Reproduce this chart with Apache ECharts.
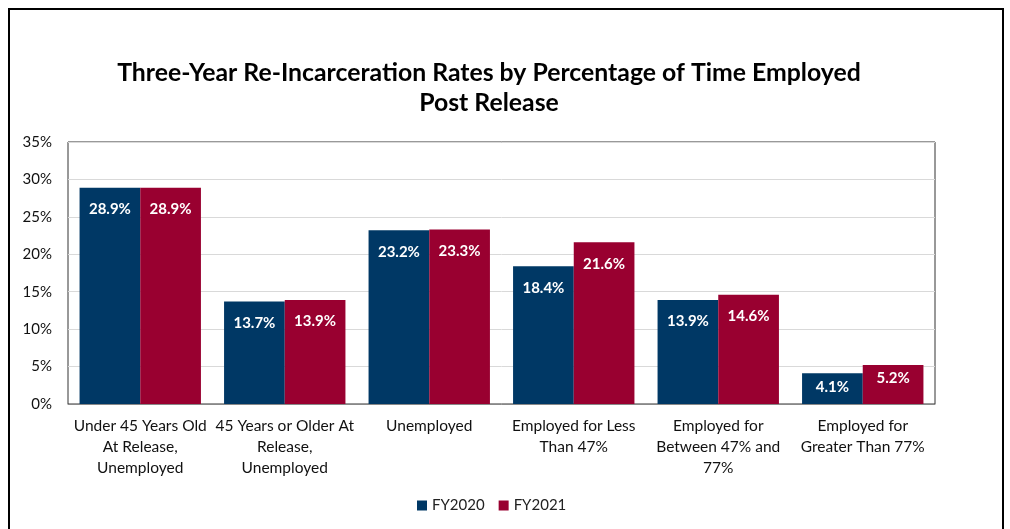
<!DOCTYPE html>
<html>
<head>
<meta charset="utf-8">
<script src="https://cdn.jsdelivr.net/npm/echarts@6/dist/echarts.min.js"></script>
<style>
html,body{margin:0;padding:0;background:#fff;}
#chart{width:1010px;height:529px;}
</style>
</head>
<body>
<div id="chart"></div>
<script>
const categories = [
  "Under 45 Years Old\nAt Release,\nUnemployed",
  "45 Years or Older At\nRelease,\nUnemployed",
  "Unemployed",
  "Employed for Less\nThan 47%",
  "Employed for\nBetween 47% and\n77%",
  "Employed for\nGreater Than 77%"
];
const fy2020 = [28.9, 13.7, 23.2, 18.4, 13.9, 4.1];
const fy2021 = [28.9, 13.9, 23.3, 21.6, 14.6, 5.2];
const seriesNames = ["FY2020", "FY2021"];
const titleText = "Three-Year Re-Incarceration Rates by Percentage of Time Employed\nPost Release";

const FONT = "Lato, 'Open Sans', sans-serif";
const chart = echarts.init(document.getElementById('chart'));
const labelCfg = {
  show: true,
  position: 'insideTop',
  distance: 14,
  color: '#fff',
  fontWeight: 'bold',
  fontSize: 15,
  fontFamily: FONT,
  formatter: p => p.value.toFixed(1) + '%'
};
// short bars: keep label closer to the bar end
const toData = arr => arr.map(v => v < 8 ? {value: v, label: {distance: 6}} : v);
chart.setOption({
  animation: false,
  textStyle: {fontFamily: FONT},
  graphic: [{
    type: 'rect',
    shape: {x: 9, y: 9, width: 994, height: 540},
    style: {fill: 'none', stroke: '#000', lineWidth: 2},
    silent: true
  }],
  title: {
    text: titleText,
    left: 484,
    top: 53,
    textAlign: 'center',
    textStyle: {fontSize: 24.8, fontWeight: 'bold', color: '#000', lineHeight: 30, fontFamily: FONT}
  },
  legend: {
    data: seriesNames,
    bottom: 11,
    left: 412,
    itemWidth: 10,
    itemHeight: 10,
    itemGap: 14,
    icon: 'rect',
    textStyle: {fontSize: 15, color: '#222', fontFamily: FONT}
  },
  grid: {left: 68, right: 75, top: 142, bottom: 125, containLabel: false,
    show: true, borderColor: '#333', borderWidth: 1},
  xAxis: {
    type: 'category',
    data: categories,
    axisTick: {show: false},
    axisLine: {show: true, lineStyle: {color: '#888'}},
    axisLabel: {interval: 0, fontSize: 15.5, color: '#111', lineHeight: 21, margin: 11, fontFamily: FONT}
  },
  yAxis: {
    type: 'value',
    min: 0, max: 35, interval: 5,
    axisLine: {show: false},
    axisTick: {show: false},
    splitLine: {lineStyle: {color: '#d9d9d9'}},
    axisLabel: {formatter: '{value}%', fontSize: 15, color: '#111', margin: 16, fontFamily: FONT}
  },
  series: [
    {name: seriesNames[0], type: 'bar', data: toData(fy2020), barGap: '0%', barCategoryGap: '16%',
      itemStyle: {color: '#003865'}, label: labelCfg},
    {name: seriesNames[1], type: 'bar', data: toData(fy2021), barGap: '0%', barCategoryGap: '16%',
      itemStyle: {color: '#990030'}, label: labelCfg}
  ]
});
</script>
</body>
</html>
